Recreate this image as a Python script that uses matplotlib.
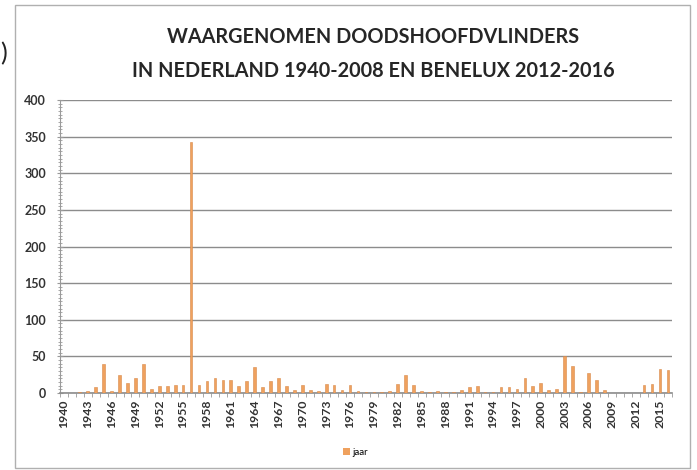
import numpy as np
import matplotlib.pyplot as plt
from matplotlib.patches import Rectangle, Patch
from matplotlib.ticker import MultipleLocator

years = list(range(1940, 2017))
counts = [0, 0, 1, 3, 8, 40, 2, 24, 14, 20,
          40, 5, 10, 9, 11, 11, 343, 11, 16, 20,
          17, 18, 10, 16, 35, 8, 16, 21, 9, 4,
          11, 4, 2, 12, 11, 4, 11, 3, 1, 1,
          1, 2, 12, 25, 11, 2, 1, 3, 1, 1,
          4, 8, 10, 1, 1, 8, 8, 5, 21, 10,
          14, 4, 5, 50, 37, 1, 27, 18, 4, 0,
          0, 0, 0, 11, 12, 33, 31]
title = "WAARGENOMEN DOODSHOOFDVLINDERS\nIN NEDERLAND 1940-2008 EN BENELUX 2012-2016"

plt.rcParams['font.family'] = ['Lato', 'DejaVu Sans']

fig = plt.figure(figsize=(6.97, 4.70), dpi=100)
ax = fig.add_axes([0.086, 0.164, 0.878, 0.623])

x = np.arange(len(years))
ax.bar(x, counts, width=0.34, color='#EFA15E', edgecolor='#D9894A', linewidth=0.4,
       zorder=3)

ax.set_xlim(-0.5, len(years) - 0.5)
ax.set_ylim(0, 400)
ax.yaxis.set_major_locator(MultipleLocator(50))
ax.yaxis.set_minor_locator(MultipleLocator(5))
ax.grid(axis='y', color='#8c8c8c', linewidth=1.0, zorder=0)

ax.set_xticks(x[::3])
ax.set_xticklabels([str(y) for y in years[::3]], rotation=90, fontsize=8.8,
                   fontweight='bold', color='#333333')
ax.set_xticks(np.arange(-0.5, len(years), 1), minor=True)
ax.tick_params(axis='x', which='major', length=0, pad=5)
ax.tick_params(axis='x', which='minor', length=3, color='#9a9a9a', direction='out')
ax.tick_params(axis='y', which='major', length=4, color='#9a9a9a', labelsize=9,
               labelcolor='#333333', direction='inout', pad=8)
ax.tick_params(axis='y', which='minor', length=3, color='#9a9a9a', direction='inout')
for lbl in ax.get_yticklabels():
    lbl.set_fontweight('bold')

for s in ['top', 'right']:
    ax.spines[s].set_visible(False)
ax.spines['left'].set_color('#9a9a9a')
ax.spines['bottom'].set_color('#8c8c8c')
ax.spines['bottom'].set_linewidth(1.2)

fig.text(0.535, 0.885, title, ha='center', va='center', fontsize=14.3,
         fontweight='bold', color='#262626', linespacing=1.9)

fig.legend(handles=[Patch(facecolor='#EFA15E', label='jaar')], loc='center',
           bbox_to_anchor=(0.51, 0.038), frameon=False, fontsize=7,
           handlelength=0.7, handleheight=0.7, handletextpad=0.3)

fig.patches.append(Rectangle((0.022, 0.005), 0.968, 0.985, transform=fig.transFigure,
                             fill=False, edgecolor='#b0b0b0', linewidth=1.0))
fig.text(0.0, 0.885, ')', fontsize=18, color='#222222', va='center')

fig.savefig('out.png', dpi=100)
